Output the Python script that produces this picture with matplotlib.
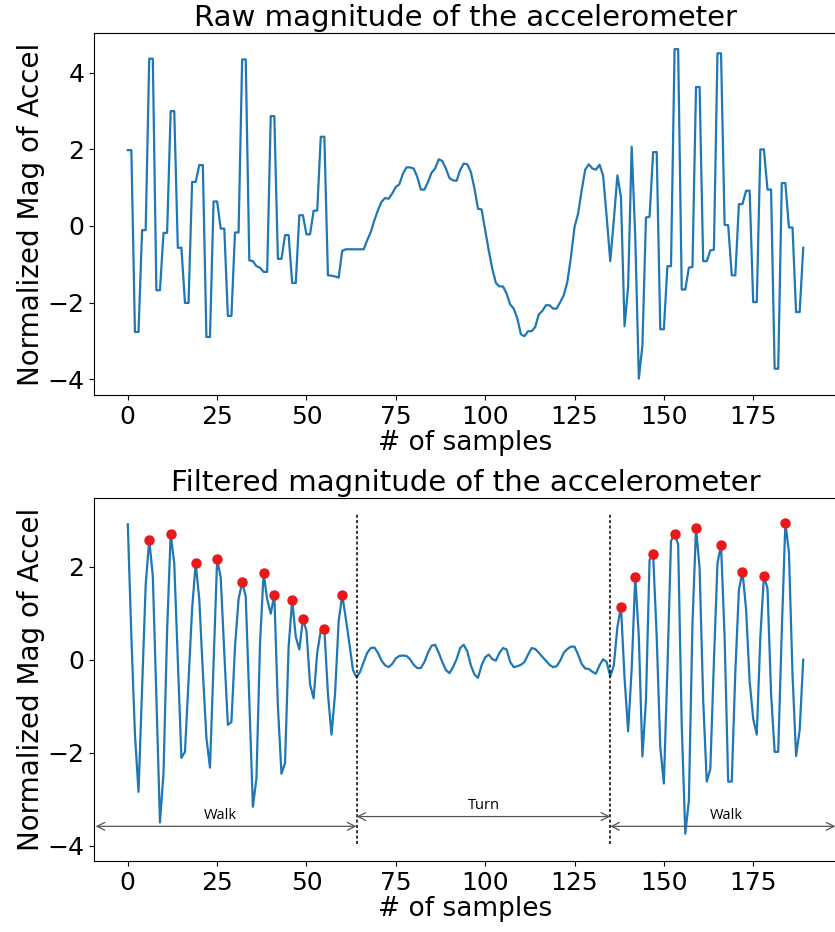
import matplotlib

matplotlib.use("Agg")
import matplotlib.pyplot as plt
import numpy as np

# raw accelerometer magnitude (sample-and-hold look)
raw = [
    1.98, 1.98, -2.77, -2.77, -0.11, -0.11, 4.37, 4.37, -1.68, -1.68,
    -0.18, -0.18, 3.00, 3.00, -0.57, -0.57, -2.01, -2.01, 1.15, 1.15,
    1.59, 1.59, -2.90, -2.90, 0.64, 0.64, -0.07, -0.07, -2.35, -2.35,
    -0.17, -0.17, 4.35, 4.35, -0.90, -0.92, -1.05, -1.09, -1.20, -1.20,
    2.87, 2.87, -0.86, -0.86, -0.24, -0.24, -1.49, -1.49, 0.28, 0.28,
    -0.22, -0.22, 0.40, 0.40, 2.33, 2.33, -1.29, -1.30, -1.32, -1.35,
    -0.65, -0.61, -0.61, -0.61, -0.61, -0.61, -0.61, -0.37, -0.16, 0.15,
    0.41, 0.63, 0.73, 0.71, 0.85, 1.02, 1.09, 1.37, 1.53, 1.53,
    1.50, 1.28, 0.95, 0.95, 1.15, 1.39, 1.50, 1.74, 1.70, 1.50,
    1.25, 1.19, 1.18, 1.46, 1.63, 1.61, 1.41, 0.98, 0.45, 0.43,
    -0.11, -0.64, -1.12, -1.49, -1.58, -1.58, -1.77, -2.05, -2.16, -2.42,
    -2.83, -2.88, -2.75, -2.75, -2.64, -2.31, -2.22, -2.07, -2.07, -2.16,
    -2.16, -1.99, -1.81, -1.46, -0.81, -0.03, 0.32, 0.93, 1.47, 1.61,
    1.50, 1.47, 1.60, 1.32, 0.24, -0.92, 0.15, 1.32, 0.76, -2.62,
    -1.59, 2.07, -0.29, -3.99, -3.12, 0.22, 0.24, 1.93, 1.93, -2.70,
    -2.70, -1.05, -1.05, 4.62, 4.62, -1.66, -1.66, -1.09, -1.07, 3.63,
    3.63, -0.92, -0.92, -0.64, -0.62, 4.51, 4.51, 0.03, 0.02, -1.29,
    -1.29, 0.57, 0.57, 0.92, 0.92, -1.99, -1.99, 2.00, 2.00, 0.95,
    0.95, -3.73, -3.73, 1.12, 1.12, -0.04, -0.04, -2.25, -2.25, -0.57,
]

# low-pass filtered magnitude
filtered = [
    2.91, 0.50, -1.60, -2.84, -0.60, 1.60, 2.58, 1.80, -0.80, -3.50,
    -2.42, 0.62, 2.70, 2.07, -0.05, -2.11, -1.98, -0.46, 1.10, 2.07,
    1.30, -0.26, -1.68, -2.32, -0.05, 2.16, 1.77, 0.15, -1.40, -1.34,
    0.28, 1.30, 1.67, 1.36, -0.86, -3.16, -2.55, 0.35, 1.86, 1.30,
    0.99, 1.39, -1.00, -2.45, -2.22, 0.28, 1.28, 0.49, 0.22, 0.87,
    0.62, -0.53, -0.83, 0.15, 0.62, 0.66, -0.73, -1.61, -0.73, 0.82,
    1.39, 0.89, 0.35, -0.22, -0.38, -0.26, -0.05, 0.15, 0.25, 0.26,
    0.15, -0.02, -0.12, -0.16, -0.09, 0.03, 0.08, 0.09, 0.08, 0.01,
    -0.11, -0.18, -0.18, -0.05, 0.15, 0.30, 0.32, 0.15, -0.05, -0.22,
    -0.29, -0.16, 0.01, 0.25, 0.32, 0.18, -0.12, -0.32, -0.39, -0.12,
    0.05, 0.11, 0.01, -0.02, 0.15, 0.25, 0.22, -0.05, -0.16, -0.14,
    -0.11, -0.05, 0.11, 0.25, 0.23, 0.15, 0.06, -0.02, -0.11, -0.16,
    -0.14, -0.02, 0.15, 0.23, 0.28, 0.28, 0.11, -0.09, -0.19, -0.20,
    -0.26, -0.30, -0.12, 0.01, -0.05, -0.36, -0.12, 0.70, 1.14, -0.39,
    -1.54, -0.19, 1.78, 0.49, -2.08, -0.86, 2.14, 2.26, 0.49, -1.88,
    -2.66, -0.19, 2.55, 2.70, 2.48, -1.41, -3.74, -3.03, 0.76, 2.83,
    1.97, -0.86, -2.62, -2.35, -0.05, 2.07, 2.47, 0.49, -2.62, -2.62,
    -0.26, 1.50, 1.89, 1.09, -0.46, -1.27, -1.61, 0.49, 1.80, 1.53,
    -0.73, -1.98, -1.98, 0.62, 2.94, 2.31, -0.32, -2.07, -1.51, 0.00,
]

# detected step peaks (sample indices)
peaks = [6, 12, 19, 25, 32, 38, 41, 46, 49, 55, 60,
         138, 142, 147, 153, 159, 166, 172, 178, 184]

# activity segments: (start, end, label, label x)
segments = [(-9.0, 64, "Walk", 26), (64, 135, "Turn", 99.5), (135, 198, "Walk", 167.5)]
boundaries = [64, 135]

LINE = "#1f77b4"

fig = plt.figure(figsize=(8.35, 9.32), dpi=100)
ax1 = fig.add_axes([0.1126, 0.576, 0.8898, 0.389])
ax2 = fig.add_axes([0.1126, 0.0762, 0.8898, 0.3895])

x = np.arange(len(raw))
ax1.plot(x, raw, color=LINE, lw=1.6)
ax1.set_title("Raw magnitude of the accelerometer", fontsize=21, pad=5)
ax1.set_xlabel("# of samples", fontsize=19, labelpad=1)
ax1.set_ylabel("Normalized Mag of Accel", fontsize=20, labelpad=2)
ax1.set_yticks([-4, -2, 0, 2, 4])

xf = np.arange(len(filtered))
yf = np.array(filtered)
ax2.plot(xf, yf, color=LINE, lw=1.6)
ax2.plot(peaks, yf[peaks], "o", color="#e8181b", ms=6.5, zorder=3)
ax2.set_title("Filtered magnitude of the accelerometer", fontsize=21, pad=5)
ax2.set_xlabel("# of samples", fontsize=19, labelpad=1)
ax2.set_ylabel("Normalized Mag of Accel", fontsize=20, labelpad=2)
ax2.set_yticks([-4, -2, 0, 2])

ax2.vlines(boundaries, -3.97, 3.12, colors="black", linestyles=(0, (2, 1.5)), lw=1.1)
for a, b, label, lx in segments:
    yy = -3.37 if label == "Turn" else -3.58
    ax2.annotate("", xy=(a, yy), xytext=(b, yy),
                 arrowprops=dict(arrowstyle="<->", color="#555555", lw=0.9,
                                 shrinkA=0, shrinkB=0, mutation_scale=14))
    ax2.text(lx, yy + 0.07, label, ha="center", va="bottom",
             fontsize=10.5, family="Open Sans")

for ax in (ax1, ax2):
    ax.set_xlim(-9.45, 198.45)
    ax.tick_params(labelsize=18)
    ax.spines["right"].set_visible(False)

fig.savefig("out.png", dpi=100)
